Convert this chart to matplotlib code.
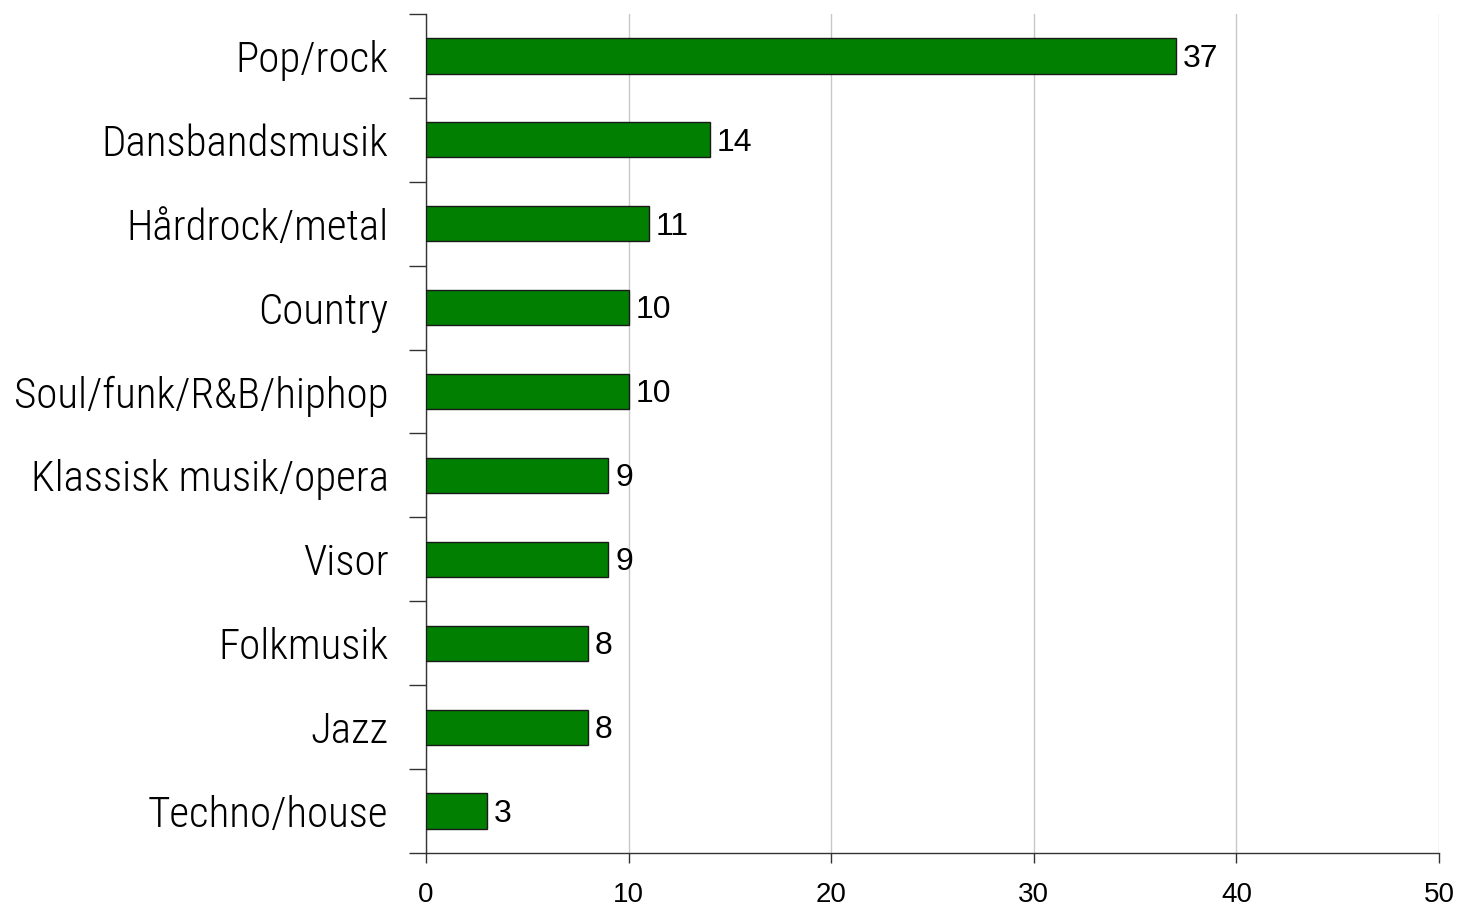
import numpy as np
import matplotlib.pyplot as plt

genres = ["Pop/rock", "Dansbandsmusik", "Hårdrock/metal", "Country",
          "Soul/funk/R&B/hiphop", "Klassisk musik/opera", "Visor",
          "Folkmusik", "Jazz", "Techno/house"]
values = [37, 14, 11, 10, 10, 9, 9, 8, 8, 3]
xticks = [0, 10, 20, 30, 40, 50]

fig = plt.figure(figsize=(14.58, 9.08), dpi=100)
ax = fig.add_axes([0.2922, 0.0606, 0.9870 - 0.2922, 0.9846 - 0.0606])

y = np.arange(len(genres))
bars = ax.barh(y, values, height=0.42, color="#007F00",
               edgecolor="#1a1a1a", linewidth=1.0, zorder=3)

for rect, v in zip(bars, values):
    ax.annotate(str(v), (rect.get_width(), rect.get_y() + rect.get_height() / 2),
                xytext=(5, -2), textcoords="offset points", va="center",
                ha="left", fontsize=23, family="Liberation Sans")

ax.set_xlim(0, 50)
ax.set_ylim(len(genres) - 0.5, -0.5)
ax.set_xticks(xticks)
ax.set_xticklabels([str(t) for t in xticks], family="Liberation Sans", fontsize=20)

# category labels without ticks, separator ticks between categories
ax.set_yticks(y)
ax.set_yticklabels(genres, family=["Roboto Condensed", "DejaVu Sans"],
                   fontsize=31, fontweight=300)
ax.tick_params(axis="y", which="major", length=0, pad=27)
ax.set_yticks(np.arange(-0.5, len(genres)), minor=True)
ax.tick_params(axis="y", which="minor", length=12, width=1, color="#333333")
ax.tick_params(axis="x", length=7, width=1, color="#333333", pad=14)

ax.grid(axis="x", color="#c8c8c8", linewidth=1, zorder=0)
for side in ["top", "right"]:
    ax.spines[side].set_visible(False)
for side in ["left", "bottom"]:
    ax.spines[side].set_color("#333333")
    ax.spines[side].set_linewidth(1)

fig.savefig("out.png", dpi=100)
